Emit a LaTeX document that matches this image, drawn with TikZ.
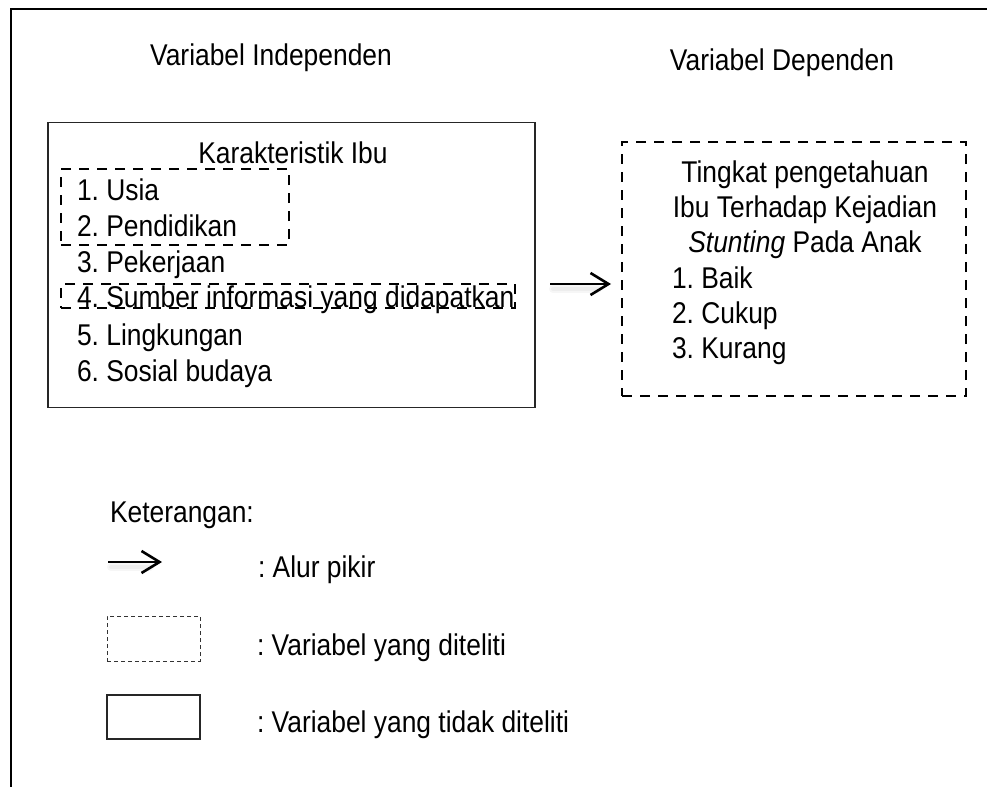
\documentclass[tikz,border=0pt]{standalone}
\usepackage{fontspec}
\setmainfont{Liberation Sans}[FakeStretch=0.88]
\usetikzlibrary{arrows.meta}
\begin{document}
\frenchspacing
\begin{tikzpicture}[x=1pt,y=-1pt,
  every node/.style={inner sep=0pt, outer sep=0pt, font=\fontsize{30}{36}\selectfont},
  txt/.style={anchor=base west},
  ctxt/.style={anchor=base},
  solidbox/.style={draw=black!85, line width=1.2pt, rectangle},
  dashbox/.style={draw=black, line width=2.4pt, dash pattern=on 10pt off 8pt, rectangle},
  smalldash/.style={draw=black!80, line width=1pt, dash pattern=on 4pt off 3pt, rectangle},
  flow/.style={line width=2.6pt, -{Straight Barb[length=18pt,width=22pt]}},
  shadowline/.style={line width=#1, draw=black, opacity=0.035, line cap=round},
]
\useasboundingbox (0,0) rectangle (987,787);
% outer frame (top and left)
\coordinate (fr1) at (987,9);
\coordinate (fr2) at (11,9);
\coordinate (fr3) at (11,787);
\draw[line width=2.6pt] (fr1) -- (fr2) -- (fr3);

% titles
\node[ctxt] (titleL) at (271,65) {Variabel Independen};
\node[ctxt] (titleR) at (782,70) {Variabel Dependen};

% left box
\node[solidbox, minimum width=487pt, minimum height=285pt] (kar) at (291.5,265) {};
\node[dashbox, minimum width=228pt, minimum height=76pt] (sel1) at (175,207) {};
\node[dashbox, minimum width=454pt, minimum height=24pt] (sel2) at (288,296) {};
\node[ctxt] (karT) at (293,163) {Karakteristik Ibu};
\node[txt] (k1) at (77,200) {1. Usia};
\node[txt] (k2) at (77,236) {2. Pendidikan};
\node[txt] (k3) at (77,272) {3. Pekerjaan};
\node[txt] (k4) at (77,307) {4. Sumber informasi yang didapatkan};
\node[txt] (k5) at (77,345) {5. Lingkungan};
\node[txt] (k6) at (77,381) {6. Sosial budaya};

% right box
\node[dashbox, minimum width=344pt, minimum height=254pt] (dep) at (794,269) {};
\node[ctxt] (d1) at (805,182) {Tingkat pengetahuan};
\node[ctxt] (d2) at (805,217) {Ibu Terhadap Kejadian};
\node[ctxt] (d3) at (805,252) {\textit{Stunting} Pada Anak};
\node[txt] (d4) at (672,288) {1. Baik};
\node[txt] (d5) at (672,323) {2. Cukup};
\node[txt] (d6) at (672,358) {3. Kurang};

% main arrow
\coordinate (a1) at (550,284);
\coordinate (a2) at (611,284);
\coordinate (s1) at (553,289);
\coordinate (s2) at (598,289);
\draw[shadowline=8pt] (s1) -- (s2);
\draw[shadowline=4pt] (s1) -- (s2);
\draw[flow] (a1) -- (a2);

% legend
\node[txt] (ket) at (110,522) {Keterangan:};
\coordinate (l1) at (108,562);
\coordinate (l2) at (162,562);
\coordinate (ls1) at (111,567);
\coordinate (ls2) at (150,567);
\draw[shadowline=8pt] (ls1) -- (ls2);
\draw[shadowline=4pt] (ls1) -- (ls2);
\draw[flow] (l1) -- (l2);
\node[txt] (legA) at (258,577) {: Alur pikir};
\node[smalldash, minimum width=93pt, minimum height=45pt] (legDbox) at (153.5,638.5) {};
\node[txt] (legD) at (257,655) {: Variabel yang diteliti};
\node[solidbox, minimum width=93pt, minimum height=44pt] (legSbox) at (153.5,717) {};
\node[txt] (legS) at (257,732) {: Variabel yang tidak diteliti};
\end{tikzpicture}
\end{document}
